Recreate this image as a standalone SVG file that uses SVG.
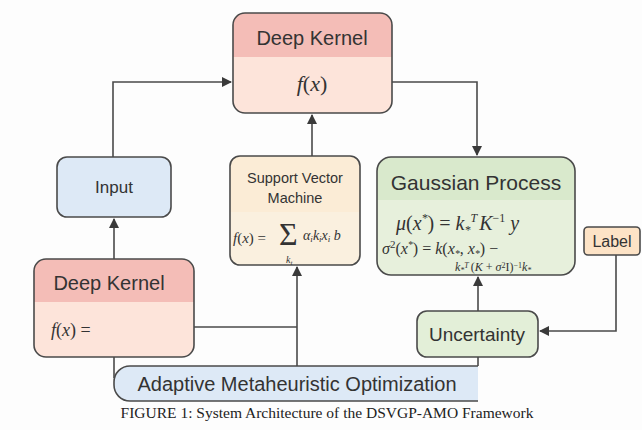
<svg xmlns="http://www.w3.org/2000/svg" width="642" height="430" viewBox="0 0 642 430">
  <defs>
    <marker id="arrow" viewBox="0 0 10 10" refX="9" refY="5" markerWidth="10" markerHeight="10" markerUnits="userSpaceOnUse" orient="auto">
      <path d="M0,0 L10,5 L0,10 Z" fill="#3a3a3a"/>
    </marker>
    <style>
      .box { stroke: #4a4a4a; stroke-width: 1.6; fill: none; }
      .edge { stroke: #4a4a4a; stroke-width: 1.6; fill: none; }
      .lbl { font-family: "Liberation Sans", Arial, sans-serif; fill: #333; text-anchor: middle; }
      .math { font-family: "Liberation Serif", "Times New Roman", serif; font-style: italic; fill: #333; }
      .up { font-style: normal; }
      .cap { font-family: "Liberation Serif", "Times New Roman", serif; fill: #222; text-anchor: middle; }
    </style>
  </defs>

  <rect width="642" height="430" fill="#fdfdfd"/>

  <!-- connectors -->
  <g id="connectors">
    <path class="edge" d="M113,157 V82 H231" marker-end="url(#arrow)"/>
    <path class="edge" d="M114,259 V219" marker-end="url(#arrow)"/>
    <path class="edge" d="M312,156 V115" marker-end="url(#arrow)"/>
    <path class="edge" d="M392,82 H477 V155" marker-end="url(#arrow)"/>
    <path class="edge" d="M194,327 H297"/>
    <path class="edge" d="M297,366 V267" marker-end="url(#arrow)"/>
    <path class="edge" d="M114,357 V378"/>
    <path class="edge" d="M478,357 V366"/>
    <path class="edge" d="M478,311 V277" marker-end="url(#arrow)"/>
    <path class="edge" d="M616,255 V331 H540" marker-end="url(#arrow)"/>
  </g>

  <!-- top deep kernel -->
  <g id="deep-kernel-top">
    <rect x="233" y="13" width="159" height="100" rx="12" fill="#fde4da"/>
    <path d="M233,57 V25 a12,12 0 0 1 12,-12 H380 a12,12 0 0 1 12,12 V57 Z" fill="#f4bdb7"/>
    <rect class="box" x="233" y="13" width="159" height="100" rx="12"/>
    <text class="lbl" x="312" y="45" font-size="20">Deep Kernel</text>
    <text class="math" x="312" y="91" font-size="22" text-anchor="middle">f<tspan class="up">(</tspan>x<tspan class="up">)</tspan></text>
  </g>

  <!-- input -->
  <g id="input">
    <rect x="57" y="157" width="114" height="60" rx="10" fill="#dde9f6" stroke="#4a4a4a" stroke-width="1.6"/>
    <text class="lbl" x="114" y="193" font-size="17">Input</text>
  </g>

  <!-- bottom deep kernel -->
  <g id="deep-kernel-bottom">
    <rect x="34" y="259" width="160" height="98" rx="12" fill="#fde4da"/>
    <path d="M34,302 V271 a12,12 0 0 1 12,-12 H182 a12,12 0 0 1 12,12 V302 Z" fill="#f4bdb7"/>
    <rect class="box" x="34" y="259" width="160" height="98" rx="12"/>
    <text class="lbl" x="109" y="290" font-size="20">Deep Kernel</text>
    <text class="math" x="51" y="336" font-size="18">f<tspan class="up">(</tspan>x<tspan class="up">) =</tspan></text>
  </g>

  <!-- support vector machine -->
  <g id="svm">
    <rect x="230" y="156" width="130" height="109" rx="10" fill="#faf0df"/>
    <path d="M230,212 V166 a10,10 0 0 1 10,-10 H350 a10,10 0 0 1 10,10 V212 Z" fill="#fbecd6"/>
    <rect class="box" x="230" y="156" width="130" height="109" rx="10"/>
    <text class="lbl" x="295" y="183" font-size="14.5">Support Vector</text>
    <text class="lbl" x="295" y="203" font-size="14.5">Machine</text>
    <text class="math" x="233" y="243" font-size="15">f<tspan class="up">(</tspan>x<tspan class="up">) =</tspan></text>
    <text x="279" y="245" font-size="32" font-family="Liberation Serif, serif" fill="#333">Σ</text>
    <text class="math" x="286" y="263" font-size="10">k<tspan font-size="7" dy="2">t</tspan></text>
    <text class="math" x="303" y="240" font-size="14">α<tspan font-size="9" dy="2">i</tspan><tspan dy="-2">k</tspan><tspan font-size="9" dy="2">i</tspan><tspan dy="-2">x</tspan><tspan font-size="9" dy="2">i</tspan><tspan dy="-2" class="up"> </tspan>b</text>
  </g>

  <!-- gaussian process -->
  <g id="gaussian-process">
    <rect x="377" y="157" width="198" height="118" rx="14" fill="#e7f0dc"/>
    <path d="M377,200 V171 a14,14 0 0 1 14,-14 H561 a14,14 0 0 1 14,14 V200 Z" fill="#d9e9cc"/>
    <rect class="box" x="377" y="157" width="198" height="118" rx="14"/>
    <text class="lbl" x="476" y="190" font-size="21">Gaussian Process</text>
    <text class="math" x="396" y="230" font-size="20">μ<tspan class="up">(</tspan>x<tspan font-size="12" dy="-8">*</tspan><tspan class="up" dy="8">) = </tspan>k<tspan font-size="12" dy="4">*</tspan><tspan font-size="12" dy="-12">T</tspan><tspan dx="2" dy="8">K</tspan><tspan font-size="12" class="up" dy="-8">−1</tspan><tspan dy="8"> y</tspan></text>
    <text class="math" x="382" y="254" font-size="16">σ<tspan class="up" font-size="11" dy="-6">2</tspan><tspan class="up" dy="6">(</tspan>x<tspan font-size="10" dy="-6">*</tspan><tspan class="up" dy="6">) = </tspan>k<tspan class="up">(</tspan>x<tspan font-size="10" dy="3">*</tspan><tspan class="up" dy="-3">, </tspan>x<tspan font-size="10" dy="3">*</tspan><tspan class="up" dy="-3">) −</tspan></text>
    <text class="math" x="455" y="271" font-size="12">k<tspan font-size="8" dy="2">*</tspan><tspan font-size="8" dy="-5">T</tspan><tspan class="up" dx="2" dy="3">(</tspan>K<tspan class="up"> + </tspan>σ<tspan class="up" font-size="8" dy="-3">2</tspan><tspan class="up" dy="3">I)</tspan><tspan class="up" font-size="8" dy="-3">−1</tspan><tspan dy="3">k</tspan><tspan font-size="8" dy="2">*</tspan></text>
  </g>

  <!-- label -->
  <g id="label">
    <rect x="584" y="227" width="56" height="28" rx="4" fill="#fde3c6" stroke="#4a4a4a" stroke-width="1.6"/>
    <text class="lbl" x="612" y="247" font-size="16">Label</text>
  </g>

  <!-- uncertainty -->
  <g id="uncertainty">
    <rect x="417" y="311" width="121" height="46" rx="10" fill="#e3efd8" stroke="#4a4a4a" stroke-width="1.6"/>
    <text class="lbl" x="477" y="341" font-size="19">Uncertainty</text>
  </g>

  <!-- adaptive metaheuristic optimization (open on the right) -->
  <g id="adaptive-optimization">
    <path d="M478,366 H130 a16,16 0 0 0 -16,16 V385 a16,16 0 0 0 16,16 H478 Z" fill="#dde9f6"/>
    <path class="box" d="M478,366 H130 a16,16 0 0 0 -16,16 V385 a16,16 0 0 0 16,16 H478"/>
    <text class="lbl" x="297" y="391" font-size="20">Adaptive Metaheuristic Optimization</text>
  </g>

  <!-- caption -->
  <text class="cap" x="327" y="418" font-size="15.5">FIGURE 1: System Architecture of the DSVGP-AMO Framework</text>
</svg>
